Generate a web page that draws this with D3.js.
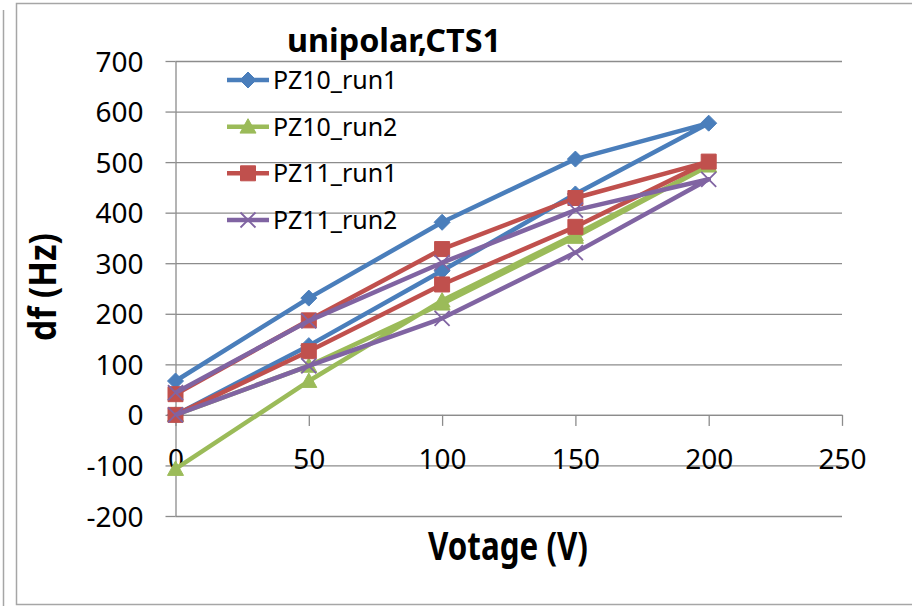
<!DOCTYPE html>
<html>
<head>
<meta charset="utf-8">
<script src="https://cdn.jsdelivr.net/npm/d3@7"></script>
<style>
  html, body { margin: 0; padding: 0; background: #ffffff; }
  svg { display: block; }
  text { font-family: "Noto Sans", "DejaVu Sans", sans-serif; fill: #000; }
</style>
</head>
<body>
<svg id="chart" width="912" height="606"></svg>
<script>
// Voltage sweep: up from 0 V to 200 V, then back down to 0 V
const voltage = [0, 50, 100, 150, 200, 150, 100, 50, 0];

// Frequency shift df (Hz) for each run along the sweep
const pz10Run1 = [0, 137, 285, 437, 577, 506, 381, 231, 67];
const pz10Run2 = [-107, 67, 226, 357, 493, 352, 220, 97, 0];
const pz11Run1 = [0, 126, 258, 372, 501, 429, 328, 187, 41];
const pz11Run2 = [0, 97, 191, 321, 466, 405, 301, 186, 44];

const seriesNames = ["PZ10_run1", "PZ10_run2", "PZ11_run1", "PZ11_run2"];
const seriesValues = [pz10Run1, pz10Run2, pz11Run1, pz11Run2];

const xTicks = [0, 50, 100, 150, 200, 250];
const yTicks = [-200, -100, 0, 100, 200, 300, 400, 500, 600, 700];

const chartTitle = "unipolar,CTS1";
const xTitle = "Votage (V)";
const yTitle = "df (Hz)";

// Styling per series
const colors = ["#4A7EBB", "#9BBB59", "#C0504D", "#8064A2"];
const markerKinds = ["diamond", "triangle", "square", "cross"];

const svg = d3.select("#chart");

// Outer frames
svg.append("line")
  .attr("x1", 3.5).attr("x2", 3.5).attr("y1", 10).attr("y2", 606)
  .attr("stroke", "#a6a6a6").attr("stroke-width", 1.5);
svg.append("rect")
  .attr("x", 16.5).attr("y", 3.5).attr("width", 1000).attr("height", 601)
  .attr("fill", "none").attr("stroke", "#a6a6a6").attr("stroke-width", 1.5);

// Scales
const x = d3.scaleLinear().domain([0, 250]).range([175.5, 842]);
const y = d3.scaleLinear().domain([-200, 700]).range([516, 61]);

const gridColor = "#8c8c8c";
const plainNumber = d => String(d);

// Horizontal gridlines
svg.append("g")
  .attr("transform", `translate(${x(0)},0)`)
  .call(d3.axisLeft(y).tickValues(yTicks).tickSize(-(x(250) - x(0))).tickFormat(""))
  .call(g => g.select(".domain").remove())
  .call(g => g.selectAll("line").attr("stroke", gridColor).attr("stroke-width", 1.3));

// Y axis with tick marks and labels
svg.append("g")
  .attr("transform", `translate(${x(0)},0)`)
  .call(d3.axisLeft(y).tickValues(yTicks).tickFormat(plainNumber)
    .tickSize(10).tickSizeOuter(0).tickPadding(22))
  .call(g => g.select(".domain").attr("stroke", gridColor).attr("stroke-width", 1.3))
  .call(g => g.selectAll("line").attr("stroke", gridColor).attr("stroke-width", 1.3))
  .call(g => g.selectAll("text")
    .attr("font-family", "Noto Sans").attr("font-size", 28).attr("fill", "#000")
    .attr("dy", "0.36em"));

// X axis crossing at df = 0
svg.append("g")
  .attr("transform", `translate(0,${y(0)})`)
  .call(d3.axisBottom(x).tickValues(xTicks).tickFormat(plainNumber)
    .tickSize(11).tickSizeOuter(0).tickPadding(23))
  .call(g => g.select(".domain").attr("stroke", gridColor).attr("stroke-width", 1.3))
  .call(g => g.selectAll("line").attr("stroke", gridColor).attr("stroke-width", 1.3))
  .call(g => g.selectAll("text")
    .attr("font-family", "Noto Sans").attr("font-size", 28).attr("fill", "#000"));

// Marker shapes
function markerPath(kind, r) {
  switch (kind) {
    case "diamond": return `M0,${-r}L${r},0L0,${r}L${-r},0Z`;
    case "triangle": return `M0,${-r}L${r},${r * 0.8}L${-r},${r * 0.8}Z`;
    case "square": return `M${-r},${-r}H${r}V${r}H${-r}Z`;
    case "cross": return `M${-r},${-r}L${r},${r}M${r},${-r}L${-r},${r}`;
  }
}
function drawMarker(g, kind, color, cx, cy) {
  const r = kind === "square" ? 7.5 : kind === "cross" ? 7.5 : 8;
  const p = g.append("path")
    .attr("transform", `translate(${cx},${cy})`)
    .attr("d", markerPath(kind, r));
  if (kind === "cross") {
    p.attr("fill", "none").attr("stroke", color).attr("stroke-width", 1.8);
  } else {
    p.attr("fill", color).attr("stroke", color).attr("stroke-width", 1);
  }
}

const line = d3.line()
  .x(d => x(d[0]))
  .y(d => y(d[1]));

// Series: line, then its markers
seriesValues.forEach((vals, i) => {
  const pts = voltage.map((v, k) => [v, vals[k]]);
  const g = svg.append("g");
  g.append("path")
    .datum(pts)
    .attr("d", line)
    .attr("fill", "none")
    .attr("stroke", colors[i])
    .attr("stroke-width", 4.5)
    .attr("stroke-linejoin", "round");
  pts.forEach(p => drawMarker(g, markerKinds[i], colors[i], x(p[0]), y(p[1])));
});

// Legend
const legendY = [80, 126.7, 173.3, 220];
seriesNames.forEach((name, i) => {
  const g = svg.append("g");
  g.append("line")
    .attr("x1", 227).attr("x2", 269)
    .attr("y1", legendY[i]).attr("y2", legendY[i])
    .attr("stroke", colors[i]).attr("stroke-width", 4.5);
  drawMarker(g, markerKinds[i], colors[i], 248, legendY[i]);
  g.append("text")
    .attr("x", 273).attr("y", legendY[i] + 8.8)
    .attr("font-size", 25)
    .text(name);
});

// Titles
svg.append("text")
  .attr("x", 394).attr("y", 52)
  .attr("text-anchor", "middle")
  .attr("font-size", 33).attr("font-weight", "bold")
  .attr("textLength", 214).attr("lengthAdjust", "spacingAndGlyphs")
  .text(chartTitle);

svg.append("text")
  .attr("x", 508).attr("y", 560)
  .attr("text-anchor", "middle")
  .attr("font-size", 40).attr("font-weight", "bold")
  .attr("textLength", 160).attr("lengthAdjust", "spacingAndGlyphs")
  .text(xTitle);

svg.append("text")
  .attr("transform", "translate(56,287) rotate(-90)")
  .attr("text-anchor", "middle")
  .attr("font-size", 38).attr("font-weight", "bold")
  .attr("textLength", 108).attr("lengthAdjust", "spacingAndGlyphs")
  .text(yTitle);
</script>
</body>
</html>
